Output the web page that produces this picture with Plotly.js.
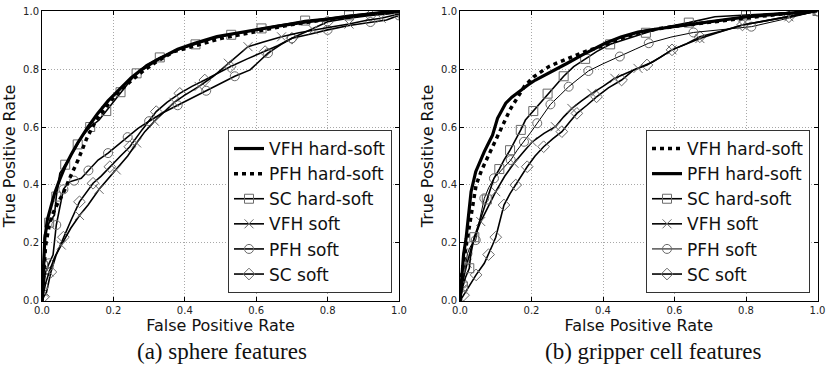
<!DOCTYPE html>
<html>
<head>
<meta charset="utf-8">
<script src="https://cdn.plot.ly/plotly-3.0.1.min.js"></script>
<style>html,body{margin:0;padding:0;background:#fff;}#chart{width:826px;height:372px;}</style>
</head>
<body>
<div id="chart"></div>
<script>
// ---------- DATA ----------
const ticks = [0, 0.2, 0.4, 0.6, 0.8, 1.0];
const captionA = "(a) sphere features";
const captionB = "(b) gripper cell features";
const legendNamesA = ["VFH hard-soft", "PFH hard-soft", "SC hard-soft", "VFH soft", "PFH soft", "SC soft"];
const legendNamesB = ["VFH hard-soft", "PFH hard-soft", "SC hard-soft", "VFH soft", "PFH soft", "SC soft"];

// (a) sphere features
const A_vfhHS_x = [0, 0.003, 0.008, 0.015, 0.025, 0.035, 0.05, 0.065, 0.082, 0.1, 0.129, 0.155, 0.185, 0.22, 0.25, 0.278, 0.32, 0.38, 0.43, 0.49, 0.55, 0.6, 0.66, 0.74, 0.8, 0.87, 0.93, 1.0];
const A_vfhHS_y = [0, 0.1, 0.216, 0.28, 0.33, 0.37, 0.42, 0.465, 0.505, 0.545, 0.6, 0.645, 0.69, 0.735, 0.77, 0.797, 0.83, 0.868, 0.89, 0.912, 0.925, 0.935, 0.948, 0.962, 0.972, 0.984, 0.992, 1.0];
const A_pfhHS_x = [0, 0.004, 0.01, 0.02, 0.03, 0.045, 0.059, 0.08, 0.101, 0.125, 0.15, 0.18, 0.21, 0.25, 0.28, 0.32, 0.37, 0.437, 0.5, 0.56, 0.62, 0.7, 0.78, 0.86, 0.93, 1.0];
const A_pfhHS_y = [0, 0.09, 0.19, 0.26, 0.3, 0.34, 0.37, 0.43, 0.486, 0.56, 0.62, 0.67, 0.715, 0.76, 0.79, 0.825, 0.86, 0.883, 0.905, 0.92, 0.935, 0.953, 0.968, 0.98, 0.99, 1.0];
const A_scHS_x = [0, 0.003, 0.007, 0.02, 0.035, 0.04, 0.05, 0.065, 0.082, 0.1, 0.115, 0.135, 0.16, 0.18, 0.199, 0.22, 0.241, 0.265, 0.292, 0.33, 0.381, 0.43, 0.484, 0.53, 0.569, 0.615, 0.66, 0.737, 0.8, 0.86, 0.93, 1.0];
const A_scHS_y = [0, 0.12, 0.228, 0.27, 0.297, 0.36, 0.44, 0.47, 0.503, 0.54, 0.572, 0.6, 0.624, 0.655, 0.687, 0.72, 0.75, 0.785, 0.814, 0.84, 0.866, 0.885, 0.906, 0.918, 0.929, 0.94, 0.95, 0.967, 0.975, 0.985, 0.993, 1.0];
const A_vfhS_x = [0, 0.005, 0.01, 0.02, 0.035, 0.054, 0.08, 0.105, 0.129, 0.16, 0.185, 0.208, 0.24, 0.265, 0.288, 0.315, 0.344, 0.37, 0.4, 0.44, 0.48, 0.522, 0.55, 0.577, 0.62, 0.671, 0.72, 0.76, 0.81, 0.86, 0.91, 0.95, 1.0];
const A_vfhS_y = [0, 0.03, 0.06, 0.1, 0.15, 0.193, 0.25, 0.295, 0.331, 0.385, 0.42, 0.452, 0.5, 0.545, 0.584, 0.62, 0.653, 0.685, 0.71, 0.74, 0.775, 0.82, 0.85, 0.877, 0.893, 0.911, 0.925, 0.935, 0.945, 0.955, 0.968, 0.975, 0.99];
const A_pfhS_x = [0, 0.004, 0.01, 0.02, 0.031, 0.04, 0.05, 0.06, 0.075, 0.09, 0.11, 0.13, 0.157, 0.185, 0.213, 0.24, 0.269, 0.3, 0.34, 0.38, 0.42, 0.46, 0.498, 0.54, 0.583, 0.633, 0.67, 0.7, 0.75, 0.8, 0.86, 0.92, 0.965, 1.0];
const A_pfhS_y = [0, 0.05, 0.1, 0.13, 0.159, 0.262, 0.33, 0.385, 0.41, 0.415, 0.423, 0.45, 0.486, 0.51, 0.538, 0.565, 0.595, 0.62, 0.65, 0.675, 0.7, 0.725, 0.75, 0.775, 0.797, 0.855, 0.885, 0.906, 0.92, 0.935, 0.95, 0.962, 0.969, 0.985];
const A_scS_x = [0, 0.005, 0.012, 0.025, 0.04, 0.06, 0.082, 0.105, 0.125, 0.143, 0.165, 0.19, 0.22, 0.246, 0.28, 0.32, 0.35, 0.386, 0.42, 0.456, 0.49, 0.527, 0.575, 0.625, 0.66, 0.7, 0.75, 0.8, 0.86, 0.92, 0.97, 1.0];
const A_scS_y = [0, 0.015, 0.027, 0.1, 0.16, 0.22, 0.28, 0.342, 0.375, 0.406, 0.43, 0.463, 0.5, 0.532, 0.59, 0.653, 0.685, 0.716, 0.74, 0.762, 0.785, 0.808, 0.835, 0.86, 0.88, 0.906, 0.935, 0.963, 0.975, 0.985, 0.99, 0.995];

// (b) gripper cell features
const B_vfhHS_x = [0, 0.005, 0.012, 0.02, 0.03, 0.045, 0.06, 0.075, 0.09, 0.105, 0.123, 0.14, 0.16, 0.18, 0.206, 0.228, 0.248, 0.27, 0.29, 0.32, 0.35, 0.4, 0.45, 0.5, 0.56, 0.62, 0.7, 0.8, 0.9, 1.0];
const B_vfhHS_y = [0, 0.09, 0.15, 0.21, 0.29, 0.4, 0.45, 0.49, 0.525, 0.565, 0.618, 0.66, 0.7, 0.74, 0.773, 0.79, 0.808, 0.82, 0.83, 0.845, 0.86, 0.88, 0.905, 0.925, 0.94, 0.95, 0.962, 0.978, 0.99, 1.0];
const B_pfhHS_x = [0, 0.005, 0.01, 0.017, 0.025, 0.031, 0.044, 0.055, 0.068, 0.08, 0.091, 0.105, 0.128, 0.145, 0.165, 0.19, 0.211, 0.24, 0.267, 0.3, 0.341, 0.37, 0.406, 0.45, 0.498, 0.55, 0.597, 0.65, 0.7, 0.8, 0.9, 1.0];
const B_pfhHS_y = [0, 0.1, 0.16, 0.216, 0.3, 0.377, 0.446, 0.48, 0.515, 0.545, 0.572, 0.63, 0.682, 0.703, 0.722, 0.745, 0.762, 0.78, 0.797, 0.82, 0.848, 0.866, 0.889, 0.91, 0.927, 0.938, 0.946, 0.955, 0.965, 0.98, 0.99, 1.0];
const B_scHS_x = [0, 0.008, 0.015, 0.026, 0.03, 0.04, 0.058, 0.075, 0.095, 0.11, 0.123, 0.14, 0.156, 0.17, 0.183, 0.205, 0.225, 0.245, 0.267, 0.29, 0.318, 0.35, 0.382, 0.42, 0.47, 0.52, 0.579, 0.64, 0.713, 0.8, 0.9, 1.0];
const B_scHS_y = [0, 0.05, 0.08, 0.113, 0.16, 0.22, 0.285, 0.35, 0.423, 0.455, 0.486, 0.52, 0.555, 0.59, 0.624, 0.655, 0.687, 0.715, 0.745, 0.775, 0.808, 0.835, 0.86, 0.885, 0.906, 0.925, 0.946, 0.96, 0.98, 0.985, 0.993, 1.0];
const B_vfhS_x = [0, 0.005, 0.01, 0.02, 0.035, 0.058, 0.08, 0.1, 0.125, 0.151, 0.175, 0.202, 0.235, 0.267, 0.29, 0.313, 0.34, 0.369, 0.4, 0.433, 0.465, 0.498, 0.54, 0.593, 0.64, 0.671, 0.72, 0.79, 0.85, 0.92, 0.96, 1.0];
const B_vfhS_y = [0, 0.04, 0.08, 0.13, 0.2, 0.274, 0.33, 0.377, 0.43, 0.475, 0.51, 0.549, 0.578, 0.601, 0.635, 0.664, 0.69, 0.716, 0.74, 0.768, 0.785, 0.802, 0.825, 0.866, 0.89, 0.905, 0.925, 0.952, 0.965, 0.98, 0.99, 1.0];
const B_pfhS_x = [0, 0.008, 0.015, 0.021, 0.03, 0.044, 0.055, 0.068, 0.08, 0.095, 0.115, 0.142, 0.16, 0.179, 0.197, 0.216, 0.235, 0.253, 0.28, 0.304, 0.33, 0.359, 0.4, 0.447, 0.49, 0.528, 0.59, 0.653, 0.73, 0.815, 0.9, 1.0];
const B_pfhS_y = [0, 0.06, 0.11, 0.164, 0.19, 0.21, 0.28, 0.354, 0.39, 0.423, 0.45, 0.486, 0.52, 0.549, 0.58, 0.613, 0.645, 0.678, 0.71, 0.739, 0.765, 0.793, 0.818, 0.843, 0.868, 0.889, 0.91, 0.926, 0.935, 0.946, 0.97, 1.0];
const B_scS_x = [0, 0.01, 0.025, 0.045, 0.068, 0.08, 0.091, 0.1, 0.109, 0.123, 0.14, 0.156, 0.17, 0.188, 0.21, 0.234, 0.26, 0.285, 0.305, 0.327, 0.355, 0.382, 0.415, 0.452, 0.486, 0.523, 0.56, 0.593, 0.63, 0.671, 0.73, 0.79, 0.85, 0.92, 0.96, 1.0];
const B_scS_y = [0, 0.02, 0.05, 0.09, 0.13, 0.16, 0.193, 0.22, 0.262, 0.331, 0.37, 0.4, 0.43, 0.463, 0.5, 0.532, 0.56, 0.584, 0.615, 0.647, 0.675, 0.704, 0.735, 0.762, 0.797, 0.814, 0.84, 0.866, 0.885, 0.911, 0.93, 0.952, 0.965, 0.98, 0.99, 1.0];

// ---------- STYLES ----------
const FONT = "DejaVu Sans, Liberation Sans, sans-serif";
const styles = {
  thick:  {color: "#000", width: 3.2},
  dotted: {color: "#000", width: 3.5, dash: "4px,4px"},
  thin:   {color: "#000", width: 1.6},
  hair:   {color: "#000", width: 1.0}
};
const MK = "#6a6a6a";
function mk(symbol) { return {symbol: symbol, size: 9, color: MK, line: {color: MK, width: 1}}; }

const panels = [
  {ax: "", legend: "legend", names: legendNamesA, series: [
    {x: A_vfhHS_x, y: A_vfhHS_y, st: "thick", sym: null},
    {x: A_pfhHS_x, y: A_pfhHS_y, st: "dotted", sym: null},
    {x: A_scHS_x, y: A_scHS_y, st: "thin", sym: "square-open"},
    {x: A_vfhS_x, y: A_vfhS_y, st: "thin", sym: "x-thin-open"},
    {x: A_pfhS_x, y: A_pfhS_y, st: "thin", sym: "circle-open"},
    {x: A_scS_x, y: A_scS_y, st: "thin", sym: "diamond-open"}
  ]},
  {ax: "2", legend: "legend2", names: legendNamesB, series: [
    {x: B_vfhHS_x, y: B_vfhHS_y, st: "dotted", sym: null},
    {x: B_pfhHS_x, y: B_pfhHS_y, st: "thick", sym: null},
    {x: B_scHS_x, y: B_scHS_y, st: "thin", sym: "square-open"},
    {x: B_vfhS_x, y: B_vfhS_y, st: "thin", sym: "x-thin-open"},
    {x: B_pfhS_x, y: B_pfhS_y, st: "hair", sym: "circle-open"},
    {x: B_scS_x, y: B_scS_y, st: "thin", sym: "diamond-open"}
  ]}
];

const traces = [];
panels.forEach((p, pi) => {
  const xa = "x" + p.ax, ya = "y" + p.ax;
  const order = [5, 4, 3, 2, 1, 0];
  order.forEach(i => {
    const s = p.series[i];
    traces.push({x: s.x, y: s.y, mode: "lines", line: Object.assign({}, styles[s.st]), xaxis: xa, yaxis: ya,
      showlegend: false, hoverinfo: "skip"});
    if (s.sym) {
      const keep = (_, k) => k % 2 === 1;
      traces.push({x: s.x.filter(keep), y: s.y.filter(keep), mode: "markers", marker: mk(s.sym),
        xaxis: xa, yaxis: ya, showlegend: false, hoverinfo: "skip"});
    }
  });
  p.series.forEach((s, i) => {
    const t = {x: [null], y: [null], mode: s.sym ? "lines+markers" : "lines", name: p.names[i],
      line: Object.assign({}, styles[s.st]),
      xaxis: xa, yaxis: ya, legend: p.legend, showlegend: true};
    if (s.sym) t.marker = mk(s.sym);
    traces.push(t);
  });
});

const GRID = {showgrid: true, gridcolor: "#a8a8a8", griddash: "1px,2px", gridwidth: 1};
function xaxisDef(domain, anchor) {
  return Object.assign({anchor: anchor, domain: domain, range: [0, 1], tickvals: ticks, tickformat: ".1f", ticks: "inside", ticklen: 4,
    tickcolor: "#000", showline: true, linecolor: "#000", linewidth: 1, mirror: "all",
    zeroline: false, ticklabeloverflow: "allow",
    tickfont: {family: FONT, size: 10, color: "#222"},
    title: {text: "False Positive Rate", font: {family: FONT, size: 16, color: "#111"}, standoff: 1},
    automargin: false, fixedrange: true}, GRID);
}
function yaxisDef(anchor) {
  return Object.assign({anchor: anchor, domain: [0.1909, 0.9704], range: [0, 1], tickvals: ticks, tickformat: ".1f",
    ticks: "inside", ticklen: 4, tickcolor: "#000", showline: true, linecolor: "#000", linewidth: 1,
    mirror: "all", zeroline: false,
    tickfont: {family: FONT, size: 10, color: "#222"},
    title: {text: "True Positive Rate", font: {family: FONT, size: 16, color: "#111"}, standoff: 3},
    automargin: false, fixedrange: true}, GRID);
}
function legendDef(xr) {
  return {x: xr, xanchor: "right", y: 0.2124, yanchor: "bottom", bgcolor: "#fff", bordercolor: "#333",
    borderwidth: 1, font: {family: FONT, size: 17, color: "#111"}, traceorder: "normal", itemwidth: 30};
}

const CAPFONT = {family: "Liberation Serif, DejaVu Serif, serif", size: 23, color: "#111"};
const layout = {
  width: 826, height: 372, margin: {l: 0, r: 0, t: 0, b: 0},
  paper_bgcolor: "#fff", plot_bgcolor: "#fff", showlegend: true,
  xaxis: xaxisDef([42 / 826, 399 / 826], "y"),
  yaxis: yaxisDef("x"),
  xaxis2: xaxisDef([460 / 826, 817.5 / 826], "y2"),
  yaxis2: yaxisDef("x2"),
  legend: legendDef(392 / 826),
  legend2: legendDef(810 / 826),
  annotations: [
    {text: captionA, xref: "paper", yref: "paper", x: 222 / 826, y: 21 / 372, xanchor: "center", yanchor: "middle",
      showarrow: false, font: CAPFONT},
    {text: captionB, xref: "paper", yref: "paper", x: 653 / 826, y: 21 / 372, xanchor: "center", yanchor: "middle",
      showarrow: false, font: CAPFONT}
  ]
};

Plotly.newPlot("chart", traces, layout, {staticPlot: true, displayModeBar: false});
</script>
</body>
</html>
